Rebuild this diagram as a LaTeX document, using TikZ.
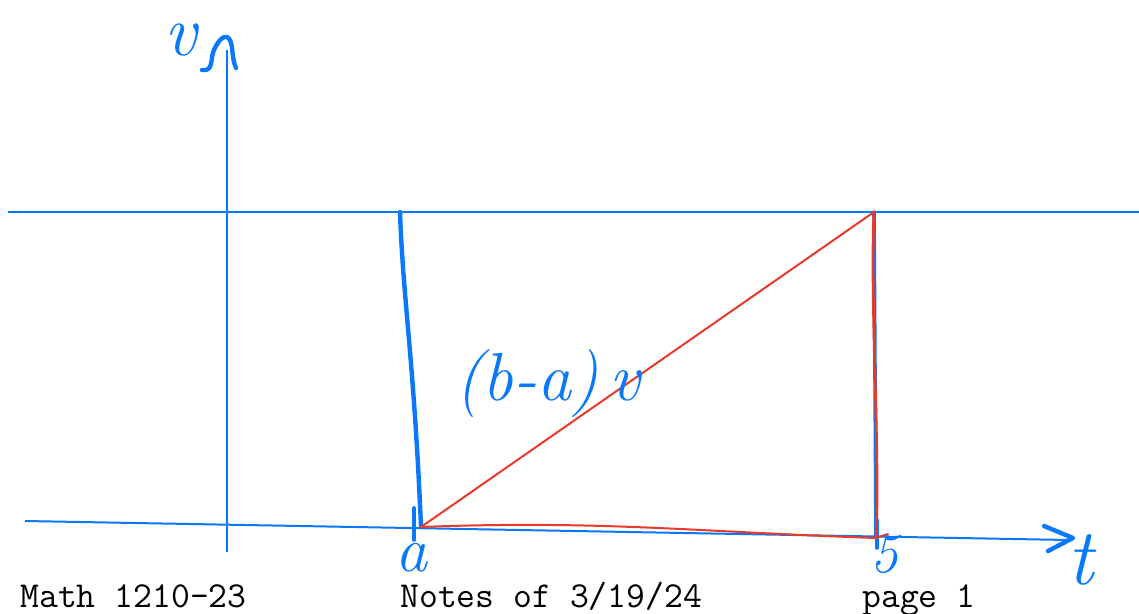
\documentclass[tikz,border=0pt]{standalone}
\usepackage{tikz}
\usetikzlibrary{positioning,calc}
\definecolor{Ink}{HTML}{0A78FA}
\definecolor{Pen}{HTML}{E8392A}
\tikzset{
  axis/.style={draw=Ink,line width=1pt},
  stroke/.style={draw=Ink,line width=2.2pt,line cap=round,line join=round},
  redline/.style={draw=Pen,line width=1pt,line cap=round},
  hand/.style={text=Ink,inner sep=0pt,font=\itshape\fontsize{34}{36}\selectfont},
  foot/.style={inner sep=0pt,anchor=base west,font=\ttfamily\fontsize{18.3}{20}\selectfont}
}
\begin{document}
\begin{tikzpicture}[x=0.5pt,y=-0.5pt]
        \useasboundingbox (0,0) rectangle (1139,614);
        % axes
        \coordinate (vbot) at (227,552);
        \coordinate (vtop) at (227,50);
        \coordinate (hl) at (8,212);
        \coordinate (hr) at (1139,212);
        \coordinate (tl) at (25,521);
        \coordinate (tr) at (1068,540);
        \draw[axis] (vbot) -- (vtop);
        \draw[axis] (hl) -- (hr);
        \draw[axis] (tl) -- (tr);
        \draw[stroke] (202,70) .. controls (214,72) and (210,58) .. (214,50) .. controls (220,36) and (230,30) .. (232,48) .. controls (233,58) and (234,64) .. (236,68);
        \draw[stroke] (1044,526) -- (1073,538) -- (1048,551);
        \node[hand,font=\itshape\fontsize{36}{38}\selectfont] (vlab) at (181,40) {v};
        \node[hand,font=\itshape\fontsize{40}{42}\selectfont] (tlab) at (1080,560) {t};
        % corners
        \coordinate (atop) at (400,212);
        \coordinate (abot) at (421,527);
        \coordinate (btop) at (874,212);
        \coordinate (bbot) at (876,538);
        \draw[stroke] (atop) .. controls (403,300) and (414,360) .. (abot);
        \draw[stroke,line width=1.8pt] (btop) -- (bbot);
        \draw[stroke,line width=1.8pt] (414,508) -- (414,540);
        \draw[stroke,line width=1.8pt] (877,520) -- (877,548);
        \draw[redline] (abot) -- (btop);
        \draw[redline] (abot) .. controls (600,520) and (700,532) .. (bbot) -- (888,534);
        \draw[redline,line width=1.4pt] (btop) .. controls (870,300) and (880,450) .. (bbot);
        \node[hand,font=\itshape\fontsize{32}{34}\selectfont] (alab) at (411,558) {a};
        \node[hand,font=\itshape\fontsize{28}{30}\selectfont] (blab) at (884,554) {5};
        \node[hand] (area) at (548,384) {(b-a)\,v};
        % footer
        \node[foot] (f1) at (20,607) {Math 1210-23};
        \node[foot] (f2) at (400,607) {Notes of 3/19/24};
        \node[foot] (f3) at (862,607) {page 1};
      \end{tikzpicture}
\end{document}
